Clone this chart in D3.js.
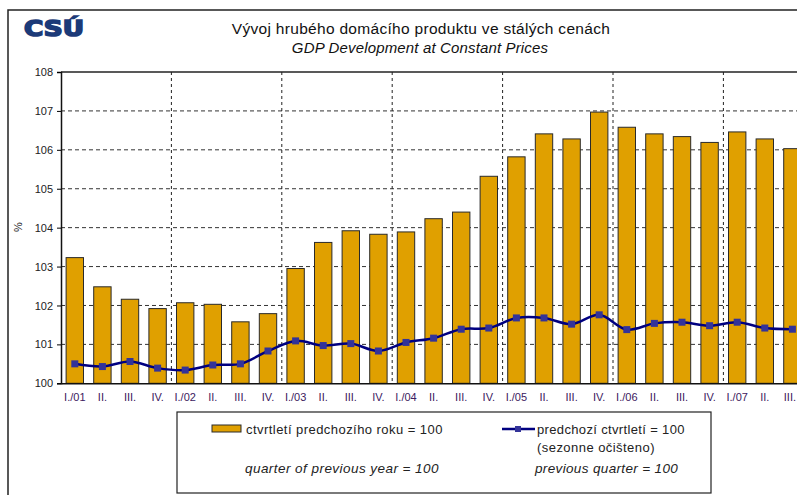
<!DOCTYPE html>
<html>
<head>
<meta charset="utf-8">
<script src="https://cdn.jsdelivr.net/npm/d3@7"></script>
<style>
  body { margin: 0; background: #fff; }
  svg { display: block; font-family: "Liberation Sans", Arial, sans-serif; }
</style>
</head>
<body>
<div id="chart"></div>
<script>
// Quarter labels (2001 Q1 .. 2007 Q3)
const quarters = ["I./01", "II.", "III.", "IV.", "I./02", "II.", "III.", "IV.",
  "I./03", "II.", "III.", "IV.", "I./04", "II.", "III.", "IV.",
  "I./05", "II.", "III.", "IV.", "I./06", "II.", "III.", "IV.",
  "I./07", "II.", "III."];

// same quarter of previous year = 100 (bars)
const yoyValues = [103.23, 102.48, 102.16, 101.92, 102.07, 102.03, 101.58, 101.79,
  102.95, 103.62, 103.92, 103.83, 103.89, 104.23, 104.40, 105.32,
  105.82, 106.41, 106.28, 106.97, 106.58, 106.41, 106.34, 106.19,
  106.46, 106.28, 106.03];

// previous quarter = 100, seasonally adjusted (line)
const qoqValues = [100.50, 100.43, 100.56, 100.39, 100.34, 100.47, 100.50, 100.83,
  101.09, 100.97, 101.02, 100.83, 101.05, 101.16, 101.39, 101.42,
  101.68, 101.68, 101.52, 101.76, 101.38, 101.54, 101.57, 101.48,
  101.57, 101.42, 101.39];

const yTicks = [100, 101, 102, 103, 104, 105, 106, 107, 108];

const width = 797, height = 495;
const plot = { left: 61, top: 72, bottom: 383.3, right: 806.2 };

const svg = d3.select("#chart").append("svg")
  .attr("width", width)
  .attr("height", height);

// Outer frame
svg.append("rect")
  .attr("x", 8).attr("y", 10)
  .attr("width", 900).attr("height", 600)
  .attr("fill", "none")
  .attr("stroke", "#222")
  .attr("stroke-width", 1.5);

// Logo
svg.append("text")
  .attr("x", 24).attr("y", 36)
  .attr("font-family", "DejaVu Sans")
  .attr("font-weight", "bold")
  .attr("font-size", 21)
  .attr("textLength", 60)
  .attr("lengthAdjust", "spacingAndGlyphs")
  .attr("fill", "#1c3a78")
  .attr("stroke", "#1c3a78")
  .attr("stroke-width", 1.6)
  .text("CSÚ");

// Titles
svg.append("text")
  .attr("x", 421).attr("y", 34)
  .attr("text-anchor", "middle")
  .attr("font-size", 15.5)
  .attr("letter-spacing", 0.3)
  .attr("fill", "#111")
  .text("Vývoj hrubého domácího produktu ve stálých cenách");

svg.append("text")
  .attr("x", 420).attr("y", 53)
  .attr("text-anchor", "middle")
  .attr("font-size", 15)
  .attr("letter-spacing", 0.15)
  .attr("font-style", "italic")
  .attr("fill", "#111")
  .text("GDP Development at Constant Prices");

// Scales
const x = d3.scaleBand()
  .domain(d3.range(quarters.length))
  .range([plot.left, plot.right])
  .paddingInner(0.37)
  .paddingOuter(0.185);

const y = d3.scaleLinear()
  .domain([100, 108])
  .range([plot.bottom, plot.top]);

// Horizontal gridlines
svg.append("g")
  .selectAll("line")
  .data(yTicks.filter(d => d > 100 && d < 108))
  .enter()
  .append("line")
  .attr("x1", plot.left).attr("x2", plot.right)
  .attr("y1", d => y(d)).attr("y2", d => y(d))
  .attr("stroke", "#333")
  .attr("stroke-dasharray", "4,3");

// Vertical gridlines at year boundaries
const yearStarts = d3.range(4, quarters.length, 4);
svg.append("g")
  .selectAll("line")
  .data(yearStarts)
  .enter()
  .append("line")
  .attr("x1", d => x(d) - x.step() * x.paddingInner() / 2)
  .attr("x2", d => x(d) - x.step() * x.paddingInner() / 2)
  .attr("y1", plot.top).attr("y2", plot.bottom)
  .attr("stroke", "#222")
  .attr("stroke-dasharray", "3,3");

// Bars
svg.append("g")
  .selectAll("rect")
  .data(yoyValues)
  .enter()
  .append("rect")
  .attr("x", (d, i) => x(i))
  .attr("y", d => y(d))
  .attr("width", x.bandwidth())
  .attr("height", d => y(100) - y(d))
  .attr("fill", "#e0a000")
  .attr("stroke", "#2a2a2a")
  .attr("stroke-width", 1);

// Line (smoothed)
const line = d3.line()
  .x((d, i) => x(i) + x.bandwidth() / 2)
  .y(d => y(d))
  .curve(d3.curveCatmullRom.alpha(0.5));

svg.append("path")
  .datum(qoqValues)
  .attr("d", line)
  .attr("fill", "none")
  .attr("stroke", "#000080")
  .attr("stroke-width", 2.5);

svg.append("g")
  .selectAll("rect")
  .data(qoqValues)
  .enter()
  .append("rect")
  .attr("x", (d, i) => x(i) + x.bandwidth() / 2 - 3.5)
  .attr("y", d => y(d) - 3.5)
  .attr("width", 7).attr("height", 7)
  .attr("fill", "#333399");

// Plot border
svg.append("line")
  .attr("x1", plot.left).attr("x2", plot.right)
  .attr("y1", plot.top).attr("y2", plot.top)
  .attr("stroke", "#222").attr("stroke-width", 1.5);

// Axes
const yAxis = d3.axisLeft(y).tickValues(yTicks).tickSize(4).tickPadding(4);
const gy = svg.append("g")
  .attr("transform", `translate(${plot.left},0)`)
  .call(yAxis);
gy.select(".domain").attr("stroke", "#111").attr("stroke-width", 1.5);
gy.selectAll("text")
  .attr("font-family", "Liberation Sans, Arial, sans-serif")
  .attr("font-size", 11)
  .attr("fill", "#222");

const xAxis = d3.axisBottom(x).tickSize(0).tickPadding(10)
  .tickFormat(i => quarters[i]);
const gx = svg.append("g")
  .attr("transform", `translate(0,${plot.bottom})`)
  .call(xAxis);
gx.select(".domain").attr("stroke", "#111").attr("stroke-width", 1.5);
gx.selectAll("text")
  .attr("font-family", "Liberation Sans, Arial, sans-serif")
  .attr("font-size", 11)
  .attr("fill", "#3c2060");
// keep the last label inside the page
gx.selectAll(".tick").filter(i => i === quarters.length - 1)
  .select("text")
  .attr("text-anchor", "end")
  .attr("x", 796 - (x(quarters.length - 1) + x.bandwidth() / 2));

// "%" label
svg.append("text")
  .attr("transform", "translate(22,227) rotate(-90)")
  .attr("text-anchor", "middle")
  .attr("font-size", 11)
  .attr("fill", "#222")
  .text("%");

// Legend
const legend = svg.append("g");
legend.append("rect")
  .attr("x", 177).attr("y", 412)
  .attr("width", 534).attr("height", 81)
  .attr("fill", "#fff")
  .attr("stroke", "#222")
  .attr("stroke-width", 1.2);

legend.append("rect")
  .attr("x", 212).attr("y", 425)
  .attr("width", 29).attr("height", 7)
  .attr("fill", "#e0a000")
  .attr("stroke", "#2a2a2a");

legend.append("text")
  .attr("x", 246).attr("y", 434)
  .attr("font-size", 13)
  .attr("letter-spacing", 0.45)
  .attr("fill", "#222")
  .text("ctvrtletí predchozího roku = 100");

legend.append("text")
  .attr("x", 245).attr("y", 473)
  .attr("font-size", 13.5)
  .attr("letter-spacing", 0.45)
  .attr("font-style", "italic")
  .attr("fill", "#222")
  .text("quarter of previous year = 100");

legend.append("line")
  .attr("x1", 502).attr("x2", 535)
  .attr("y1", 429).attr("y2", 429)
  .attr("stroke", "#000080")
  .attr("stroke-width", 2.5);

legend.append("rect")
  .attr("x", 515).attr("y", 426)
  .attr("width", 6).attr("height", 6)
  .attr("fill", "#333399");

legend.append("text")
  .attr("x", 537).attr("y", 434)
  .attr("font-size", 13)
  .attr("letter-spacing", 0.35)
  .attr("fill", "#222")
  .text("predchozí ctvrtletí = 100");

legend.append("text")
  .attr("x", 537).attr("y", 452)
  .attr("font-size", 13)
  .attr("letter-spacing", 0.45)
  .attr("fill", "#222")
  .text("(sezonne očišteno)");

legend.append("text")
  .attr("x", 535).attr("y", 473)
  .attr("font-size", 13.5)
  .attr("letter-spacing", 0.35)
  .attr("font-style", "italic")
  .attr("fill", "#222")
  .text("previous quarter = 100");
</script>
</body>
</html>
